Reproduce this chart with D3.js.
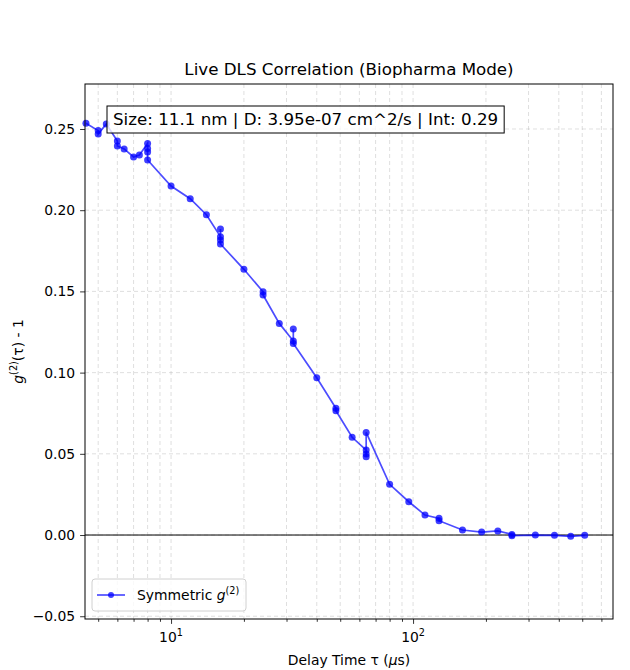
<!DOCTYPE html>
<html>
<head>
<meta charset="utf-8">
<script src="https://cdn.jsdelivr.net/npm/d3@7"></script>
<style>
  body { margin: 0; background: #fff; }
  svg text { font-family: "DejaVu Sans", sans-serif; }
</style>
</head>
<body>
<div id="chart"></div>
<script>
// delay times (µs) and symmetric g2 - 1 values
const tau = [4.45, 5, 5, 5.4, 6, 6, 6.4, 7, 7.4, 8, 8, 8, 8,
  10, 12, 14, 16, 16, 16, 16, 20, 24, 24, 28, 32, 32, 32,
  40, 48, 48, 56, 64, 64, 64, 64, 80, 96, 112, 128, 128,
  160, 192, 224, 256, 256, 320, 384, 448, 512];
const g2 = [0.2535, 0.2490, 0.2469, 0.2531, 0.2426, 0.2395, 0.2377, 0.2328, 0.2340, 0.2411, 0.2380, 0.2358, 0.2309,
  0.2149, 0.2071, 0.1972, 0.1837, 0.1884, 0.1817, 0.1792, 0.1636, 0.1498, 0.1478, 0.1303, 0.1195, 0.1268, 0.1180,
  0.0968, 0.0780, 0.0765, 0.0602, 0.0523, 0.0499, 0.0482, 0.0632, 0.0312, 0.0205, 0.0123, 0.0103, 0.0088,
  0.0031, 0.0018, 0.0025, 0.0004, -0.0004, 0.0000, -0.0002, -0.0008, -0.0002];
const yTicks = [-0.05, 0.00, 0.05, 0.10, 0.15, 0.20, 0.25];
const xMajor = [10, 100];
const xMinor = [5, 6, 7, 8, 9, 20, 30, 40, 50, 60, 70, 80, 90, 200, 300, 400, 500, 600];
const titleText = "Live DLS Correlation (Biopharma Mode)";
const infoText = "Size: 11.1 nm | D: 3.95e-07 cm^2/s | Int: 0.29";

const W = 630, H = 670;
const margin = { top: 84, right: 17, bottom: 51, left: 85 };
const iw = W - margin.left - margin.right;
const ih = H - margin.top - margin.bottom;

const svg = d3.select("#chart").append("svg")
  .attr("width", W).attr("height", H);
const g = svg.append("g").attr("transform", `translate(${margin.left},${margin.top})`);

const x = d3.scaleLog().domain([4.41, 670]).range([0, iw]);
const y = d3.scaleLinear().domain([-0.0517, 0.2777]).range([ih, 0]);

// grid (major + minor on x, major on y)
const grid = g.append("g").attr("stroke", "#b0b0b0").attr("stroke-opacity", 0.5)
  .attr("stroke-width", 0.8).attr("stroke-dasharray", "4,3");
xMajor.concat(xMinor).forEach(t => {
  grid.append("line").attr("x1", x(t)).attr("x2", x(t)).attr("y1", 0).attr("y2", ih);
});
yTicks.forEach(t => {
  grid.append("line").attr("x1", 0).attr("x2", iw).attr("y1", y(t)).attr("y2", y(t));
});

// zero line
g.append("line").attr("x1", 0).attr("x2", iw).attr("y1", y(0)).attr("y2", y(0))
  .attr("stroke", "black").attr("stroke-width", 1);

// series
const pts = tau.map((t, i) => [t, g2[i]]);
const line = d3.line().x(d => x(d[0])).y(d => y(d[1]));
g.append("path").datum(pts).attr("d", line)
  .attr("fill", "none").attr("stroke", "blue").attr("stroke-opacity", 0.7).attr("stroke-width", 1.7);
g.selectAll("circle.pt").data(pts).join("circle").attr("class", "pt")
  .attr("cx", d => x(d[0])).attr("cy", d => y(d[1])).attr("r", 3.5)
  .attr("fill", "blue").attr("fill-opacity", 0.75);

// axes
const xAxis = g.append("g").attr("transform", `translate(0,${ih})`)
  .call(d3.axisBottom(x).tickValues(xMajor).tickSize(4.9).tickFormat(""));
xAxis.select(".domain").remove();
const xMinorAxis = g.append("g").attr("transform", `translate(0,${ih})`)
  .call(d3.axisBottom(x).tickValues(xMinor).tickSize(2.8).tickFormat(""));
xMinorAxis.select(".domain").remove();
xMajor.forEach(t => {
  const e = Math.round(Math.log10(t));
  const tx = g.append("text").attr("x", x(t)).attr("y", ih + 23)
    .attr("text-anchor", "middle").attr("font-size", 13.9).attr("fill", "black");
  tx.append("tspan").text("10");
  tx.append("tspan").attr("dy", -6).attr("font-size", 9.7).text(e);
});

const yAxis = g.append("g")
  .call(d3.axisLeft(y).tickValues(yTicks).tickSize(4.9).tickPadding(4.9).tickFormat(d => d3.format(".2f")(d).replace("-", "\u2212")));
yAxis.select(".domain").remove();
yAxis.selectAll("text").attr("font-size", 13.9).attr("fill", "black");
[xAxis, xMinorAxis, yAxis].forEach(a => a.selectAll("line").attr("stroke", "black").attr("stroke-width", 0.8));

// frame
g.append("rect").attr("width", iw).attr("height", ih)
  .attr("fill", "none").attr("stroke", "black").attr("stroke-width", 1);

// title and labels
svg.append("text").attr("x", margin.left + iw / 2).attr("y", 75)
  .attr("text-anchor", "middle").attr("font-size", 16.7).text(titleText);

const xl = svg.append("text").attr("x", margin.left + iw / 2).attr("y", 665)
  .attr("text-anchor", "middle").attr("font-size", 13.9);
xl.append("tspan").text("Delay Time \u03c4 (");
xl.append("tspan").attr("font-style", "italic").text("\u03bc");
xl.append("tspan").text("s)");

const yl = svg.append("text").attr("transform", `translate(23,${margin.top + ih / 2}) rotate(-90)`)
  .attr("text-anchor", "middle").attr("font-size", 13.9);
yl.append("tspan").attr("font-style", "italic").text("g");
yl.append("tspan").attr("dy", -6).attr("font-size", 9.7).text("(2)");
yl.append("tspan").attr("dy", 6).text("(\u03c4) - 1");

// info box
const info = g.append("g").attr("transform", "translate(22,22)");
const infoT = info.append("text").attr("x", 6).attr("y", 19).attr("font-size", 16.7).text(infoText);
const bb = infoT.node().getBBox();
info.insert("rect", "text").attr("x", 0).attr("y", 0)
  .attr("width", bb.width + 12).attr("height", 27)
  .attr("fill", "white").attr("fill-opacity", 0.8).attr("stroke", "black").attr("stroke-width", 1);

// legend
const leg = g.append("g").attr("transform", `translate(7,${ih - 40})`);
leg.append("rect").attr("width", 154).attr("height", 32).attr("rx", 3)
  .attr("fill", "white").attr("fill-opacity", 0.8).attr("stroke", "#d0d0d0");
leg.append("line").attr("x1", 5).attr("x2", 33).attr("y1", 16).attr("y2", 16)
  .attr("stroke", "blue").attr("stroke-opacity", 0.7).attr("stroke-width", 1.7);
leg.append("circle").attr("cx", 19).attr("cy", 16).attr("r", 3).attr("fill", "blue").attr("fill-opacity", 0.75);
const lt = leg.append("text").attr("x", 45).attr("y", 21).attr("font-size", 13.9);
lt.append("tspan").text("Symmetric ");
lt.append("tspan").attr("font-style", "italic").text("g");
lt.append("tspan").attr("dy", -6).attr("font-size", 9.7).text("(2)");
</script>
</body>
</html>
